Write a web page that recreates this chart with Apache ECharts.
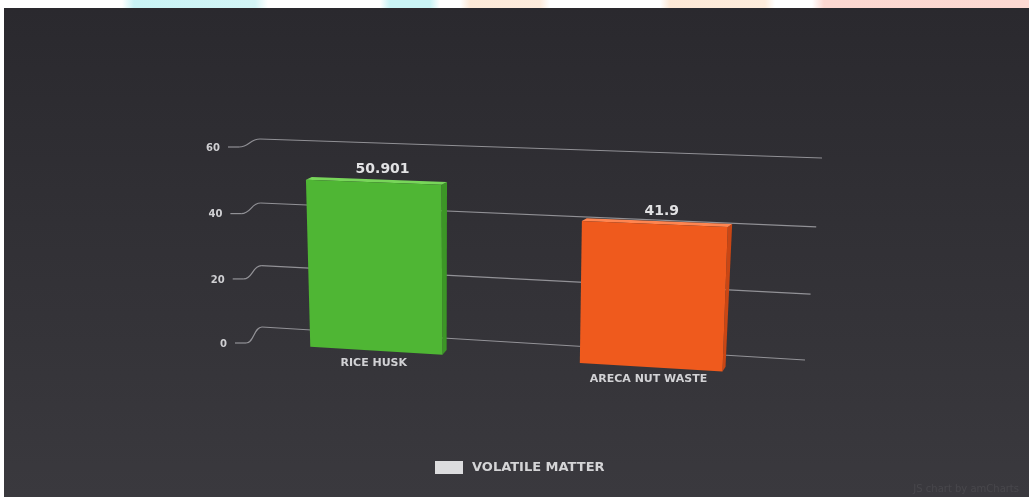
<!DOCTYPE html>
<html>
<head>
<meta charset="utf-8">
<script src="https://cdn.jsdelivr.net/npm/echarts@6/dist/echarts.min.js"></script>
<style>
  html, body { margin: 0; padding: 0; width: 1029px; height: 497px; overflow: hidden; background: #fff; }
  #strip {
    position: absolute; left: 0; top: 0; width: 1029px; height: 8px;
    background: linear-gradient(to right,
      #fff 0, #fff 122px, #c9f3f5 134px, #d3f5f6 255px, #fff 268px,
      #fff 380px, #c9f3f5 390px, #c9f3f5 430px, #fff 440px,
      #fff 460px, #fde9d8 470px, #fdebdc 540px, #fff 550px,
      #fff 660px, #fde8d6 670px, #fdecdc 765px, #fff 775px,
      #fff 812px, #fcd8d1 824px, #fcd9d2 1029px);
  }
  #panel { position: absolute; left: 4px; top: 8px; right: 0; bottom: 0; background: linear-gradient(#2a292e, #3a393e); }
  #chart { position: absolute; left: 0; top: 0; width: 1029px; height: 497px; }
</style>
</head>
<body>
<div id="strip"></div>
<div id="panel"></div>
<div id="chart"></div>
<script>
// ---- data ----
const categories = ['Rice Husk', 'Areca nut waste'];
const volatileMatter = [50.901, 41.9];
const valueTicks = [0, 20, 40, 60];
const seriesName = 'Volatile matter';

// ---- look ----
const faceColors = [
  { front: '#4fb634', side: '#3c9626', top: '#78d65a' },
  { front: '#ef5a1d', side: '#c94614', top: '#ff8550' }
];
const FONT = 'DejaVu Sans';

// Screen quads (bottom-left, bottom-right, top-right, top-left) of the
// front plane where columns stand and of the back wall carrying grid lines.
const frontQuad = [[246, 343], [796, 376], [806, 165], [239, 147]];
const wallQuad  = [[262, 327], [805, 360], [822, 158], [260, 139]];
const columnDepth = 0.3;   // share of front→wall distance used as column depth

// projective map of the unit square onto a quad
function quadMap(q) {
  const [x0, y0] = q[0], [x1, y1] = q[1], [x2, y2] = q[2], [x3, y3] = q[3];
  const dx1 = x1 - x2, dx2 = x3 - x2, dx3 = x0 - x1 + x2 - x3;
  const dy1 = y1 - y2, dy2 = y3 - y2, dy3 = y0 - y1 + y2 - y3;
  const den = dx1 * dy2 - dx2 * dy1;
  const g = (dx3 * dy2 - dx2 * dy3) / den;
  const h = (dx1 * dy3 - dx3 * dy1) / den;
  const a = x1 - x0 + g * x1, b = x3 - x0 + h * x3, c = x0;
  const d = y1 - y0 + g * y1, e = y3 - y0 + h * y3, f = y0;
  return function (s, t) {
    const w = g * s + h * t + 1;
    return [(a * s + b * t + c) / w, (d * s + e * t + f) / w];
  };
}
const front = quadMap(frontQuad);
const wall = quadMap(wallQuad);
function depthPoint(s, t, k) {
  const p = front(s, t), q = wall(s, t);
  return [p[0] + (q[0] - p[0]) * k, p[1] + (q[1] - p[1]) * k];
}
// flat grid pixel -> unit square (s across categories, t up the value axis)
function toUnit(cs, pt) {
  return [(pt[0] - cs.x) / cs.width, (cs.y + cs.height - pt[1]) / cs.height];
}

const chart = echarts.init(document.getElementById('chart'), null, { renderer: 'canvas' });

function renderGrid(params, api) {
  const cs = params.coordSys;
  const v = api.value(1);
  const t = toUnit(cs, api.coord([0, v]))[1];
  const w0 = wall(0, t), w1 = wall(1, t), f0 = front(0, t);
  const midX = (f0[0] + w0[0]) / 2;
  const lineStyle = { stroke: 'rgba(210,210,215,0.6)', lineWidth: 1.2, fill: null };
  return {
    type: 'group',
    children: [
      { type: 'line', shape: { x1: w0[0], y1: w0[1], x2: w1[0], y2: w1[1] }, style: lineStyle },
      { type: 'bezierCurve', shape: {
          x1: f0[0], y1: f0[1], x2: w0[0], y2: w0[1],
          cpx1: midX, cpy1: f0[1], cpx2: midX, cpy2: w0[1] }, style: lineStyle },
      { type: 'line', shape: { x1: f0[0] - 11, y1: f0[1], x2: f0[0], y2: f0[1] }, style: lineStyle },
      { type: 'text', x: f0[0] - 19, y: f0[1] + 1, style: {
          text: String(v), fill: '#cfcfd2', font: 'bold 10px ' + FONT,
          align: 'right', verticalAlign: 'middle' } }
    ]
  };
}

function renderColumn(params, api) {
  const cs = params.coordSys;
  const idx = api.value(0), v = api.value(1);
  const c = toUnit(cs, api.coord([idx, v]));
  const base = toUnit(cs, api.coord([idx, 0]));
  const half = api.size([1, 0])[0] * 0.25 / cs.width;
  const sL = c[0] - half, sR = c[0] + half, tT = c[1], tB = base[1];
  const col = faceColors[idx % faceColors.length];
  const fBL = front(sL, tB), fBR = front(sR, tB), fTR = front(sR, tT), fTL = front(sL, tT);
  const bBR = depthPoint(sR, tB, columnDepth), bTR = depthPoint(sR, tT, columnDepth), bTL = depthPoint(sL, tT, columnDepth);
  const lab = depthPoint(c[0], tT, 0.5);
  const cat = front(c[0], tB);
  return {
    type: 'group',
    children: [
      { type: 'polygon', shape: { points: [fBR, fTR, bTR, bBR] }, style: { fill: col.side } },
      { type: 'polygon', shape: { points: [fTL, fTR, bTR, bTL] }, style: { fill: col.top } },
      { type: 'polygon', shape: { points: [fBL, fBR, fTR, fTL] }, style: { fill: col.front } },
      { type: 'text', x: lab[0], y: lab[1] - 8, style: {
          text: String(v), fill: '#e2e2e4', font: 'bold 14px ' + FONT,
          align: 'center', verticalAlign: 'middle' } },
      { type: 'text', x: cat[0] - 2, y: cat[1] + 12, style: {
          text: categories[idx].toUpperCase(), fill: '#d2d2d5', font: 'bold 11px ' + FONT,
          align: 'center', verticalAlign: 'middle' } }
    ]
  };
}

chart.setOption({
  backgroundColor: 'transparent',
  animation: false,
  grid: { left: 100, right: 100, top: 60, bottom: 60 },
  xAxis: { type: 'category', data: categories, show: false, boundaryGap: true },
  yAxis: { type: 'value', min: 0, max: 60, interval: 20, show: false, splitLine: { show: false } },
  legend: {
    data: [{ name: seriesName, icon: 'rect', itemStyle: { color: '#dcdcde' } }],
    left: 430, top: 456, itemWidth: 28, itemHeight: 13, selectedMode: false,
    formatter: (n) => n.toUpperCase(),
    textStyle: { color: '#d4d4d6', fontSize: 13, fontWeight: 'bold', fontFamily: FONT, padding: [0, 0, 0, 4] }
  },
  graphic: [{
    type: 'text', right: 10, bottom: 3,
    style: { text: 'JS chart by amCharts', fill: 'rgba(255,255,255,0.07)', font: '10px ' + FONT }
  }],
  series: [
    {
      type: 'custom', name: 'grid', z: 1, silent: true,
      coordinateSystem: 'cartesian2d',
      data: valueTicks.map(v => [0, v]),
      renderItem: renderGrid
    },
    {
      type: 'custom', name: seriesName, z: 2,
      coordinateSystem: 'cartesian2d',
      itemStyle: { color: '#dcdcde' },
      data: volatileMatter.map((v, i) => [i, v]),
      renderItem: renderColumn
    }
  ]
});
</script>
</body>
</html>
